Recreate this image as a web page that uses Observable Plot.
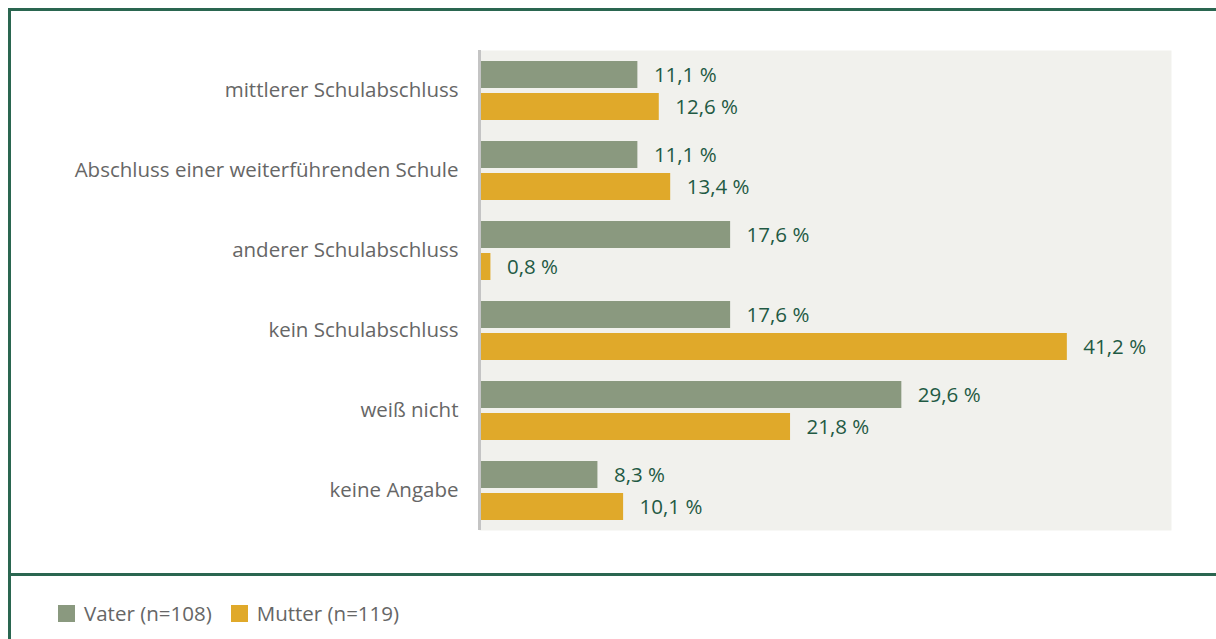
<!DOCTYPE html>
<html><head><meta charset="utf-8">
<script src="https://cdn.jsdelivr.net/npm/d3@7"></script>
<script src="https://cdn.jsdelivr.net/npm/@observablehq/plot@0.6"></script>
<style>
body{margin:0;background:#fff;}
#wrap{position:relative;width:1216px;height:639px;overflow:hidden;font-family:"Open Sans",sans-serif;}
.ln{position:absolute;background:#2a6650;}
#legend{position:absolute;left:58px;top:599px;font-size:20.5px;color:#666;display:flex;align-items:center;}
#legend .sw{display:inline-block;width:17px;height:17px;margin-right:9px;}
#legend .it{display:flex;align-items:center;margin-right:19px;}
</style></head>
<body><div id="wrap">
<div id="chart" style="position:absolute;left:0;top:0;"></div>
<div class="ln" style="left:8px;top:8px;width:1208px;height:3px;"></div>
<div class="ln" style="left:8px;top:8px;width:3px;height:631px;"></div>
<div class="ln" style="left:8px;top:573px;width:1208px;height:3px;"></div>
<div id="legend"></div>
</div>
<script>
const categories = ["mittlerer Schulabschluss","Abschluss einer weiterführenden Schule","anderer Schulabschluss","kein Schulabschluss","weiß nicht","keine Angabe"];
const series = ["Vater (n=108)","Mutter (n=119)"];
const vater = [11.1, 11.1, 17.6, 17.6, 29.6, 8.3];
const mutter = [12.6, 13.4, 0.8, 41.2, 21.8, 10.1];
const colors = ["#8a997f","#e0a92a"];

const dV = categories.map((c,i)=>({cat:c, s:series[0], v:vater[i]}));
const dM = categories.map((c,i)=>({cat:c, s:series[1], v:mutter[i]}));
const fmt = v => v.toFixed(1).replace(".", ",") + " %";

const plot = Plot.plot({
  width:1216, height:575,
  marginLeft:479, marginRight:45, marginTop:50, marginBottom:45,
  style:{fontFamily:"'Open Sans',sans-serif", fontSize:"20.5px", background:"transparent"},
  x:{domain:[0,48.5], axis:null},
  y:{domain:categories, padding:0, axis:null},
  color:{domain:series, range:colors},
  marks:[
    Plot.frame({fill:"#f1f1ed", stroke:null}),
    Plot.barX(dV, {x:"v", y:"cat", fill:"s", insetTop:11, insetBottom:42}),
    Plot.barX(dM, {x:"v", y:"cat", fill:"s", insetTop:43, insetBottom:10}),
    Plot.text(dV, {x:"v", y:"cat", text:d=>fmt(d.v), dx:16, dy:-15.5, textAnchor:"start", fill:"#1f5a44", fontSize:20.5}),
    Plot.text(dM, {x:"v", y:"cat", text:d=>fmt(d.v), dx:16, dy:16.5, textAnchor:"start", fill:"#1f5a44", fontSize:20.5}),
    Plot.ruleX([0], {stroke:"#c4c4c4", strokeWidth:3}),
    Plot.axisY({anchor:"left", tickSize:0, tickPadding:21, fontSize:20.5, color:"#666", label:null})
  ]
});
document.getElementById("chart").appendChild(plot);

const lg = document.getElementById("legend");
series.forEach((s,i)=>{
  const it = document.createElement("span"); it.className="it";
  const sw = document.createElement("span"); sw.className="sw"; sw.style.background=colors[i];
  it.appendChild(sw); it.appendChild(document.createTextNode(s));
  lg.appendChild(it);
});
</script>
</body></html>
